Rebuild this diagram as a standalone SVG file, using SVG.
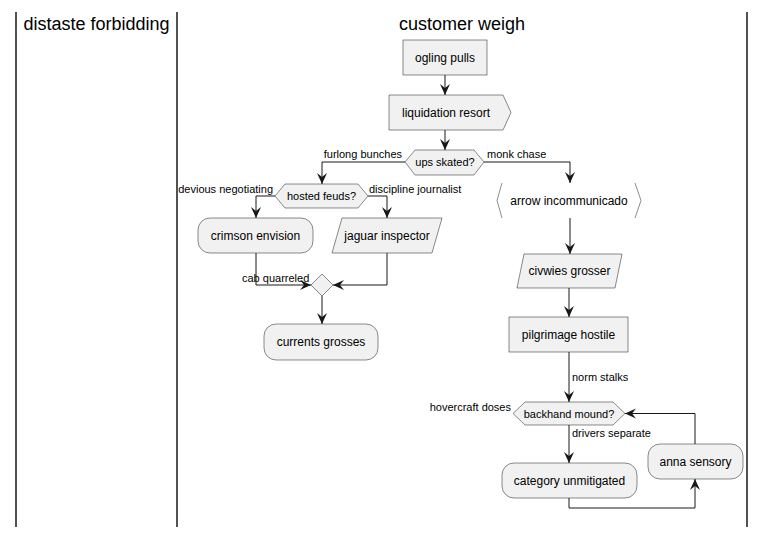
<svg xmlns="http://www.w3.org/2000/svg" width="765" height="537" viewBox="0 0 765 537">
<style>
.lane{stroke:#181818;stroke-width:1.5;fill:none}
.title{font-family:"Liberation Sans",Arial,sans-serif;font-size:18px;fill:#000;text-anchor:middle}
.box{fill:#F1F1F1;stroke:#181818;stroke-width:0.5}
.brk{fill:none;stroke:#181818;stroke-width:0.5}
.t{font-family:"Liberation Sans",Arial,sans-serif;font-size:12px;fill:#000;text-anchor:middle}
.ts{font-family:"Liberation Sans",Arial,sans-serif;font-size:11px;fill:#000;text-anchor:middle}
.lbl{font-family:"Liberation Sans",Arial,sans-serif;font-size:11px;fill:#000}
.e{text-anchor:end}
.c{fill:none;stroke:#181818;stroke-width:1;marker-end:url(#ah)}
</style>
<defs>
<marker id="ah" viewBox="-12 -6 13 12" markerWidth="13" markerHeight="12" refX="0" refY="0" orient="auto" markerUnits="userSpaceOnUse">
<path d="M0,0 L-11,-5 L-7,0 L-11,5 Z" fill="#181818"/>
</marker>
</defs>
<rect width="765" height="537" fill="#FFFFFF"/>
<g id="lanes">
<line class="lane" x1="16" y1="12" x2="16" y2="527"/>
<line class="lane" x1="177" y1="12" x2="177" y2="527"/>
<line class="lane" x1="747" y1="12" x2="747" y2="527"/>
<text class="title" x="96.5" y="30">distaste forbidding</text>
<text class="title" x="462" y="30">customer weigh</text>
</g>
<g id="connectors">
<path class="c" d="M445,75 L445,95"/>
<path class="c" d="M445,130 L445,150"/>
<path class="c" d="M405,162 L322,162 L322,184"/>
<path class="c" d="M484,162 L570,162 L570,183"/>
<path class="c" d="M275,196 L256,196 L256,218"/>
<path class="c" d="M368,196 L387,196 L387,218"/>
<path class="c" d="M256,253 L256,285 L311,285"/>
<path class="c" d="M387,253 L387,285 L333,285"/>
<path class="c" d="M322,296 L322,324"/>
<path class="c" d="M570,218 L570,254"/>
<path class="c" d="M569,288 L569,317"/>
<path class="c" d="M569,352 L569,402"/>
<path class="c" d="M569,425 L569,463"/>
<path class="c" d="M569,498 L569,508 L695,508 L695,479"/>
<path class="c" d="M695,444 L695,413.5 L625,413.5"/>
<text class="lbl e" x="402" y="158">furlong bunches</text>
<text class="lbl" x="487" y="158">monk chase</text>
<text class="lbl e" x="273" y="193">devious negotiating</text>
<text class="lbl" x="369" y="193">discipline journalist</text>
<text class="lbl" x="242" y="282">cab quarreled</text>
<text class="lbl" x="572" y="381">norm stalks</text>
<text class="lbl e" x="511" y="411">hovercraft doses</text>
<text class="lbl" x="572" y="437">drivers separate</text>
</g>
<g id="ogling-pulls"><rect class="box" x="403" y="40" width="84" height="35"/><text class="t" x="445" y="62">ogling pulls</text></g>
<g id="liquidation-resort"><polygon class="box" points="389,95 503,95 511,112.5 503,130 389,130"/><text class="t" x="446" y="117">liquidation resort</text></g>
<g id="ups-skated"><polygon class="box" points="405,162 415,150 474,150 484,162 474,175 415,175"/><text class="ts" x="445" y="166">ups skated?</text></g>
<g id="hosted-feuds"><polygon class="box" points="275,196 285,184 358,184 368,196 358,208 285,208"/><text class="ts" x="321.5" y="200">hosted feuds?</text></g>
<g id="crimson-envision"><rect class="box" x="198" y="218" width="115" height="35" rx="12" ry="12"/><text class="t" x="255.5" y="240">crimson envision</text></g>
<g id="jaguar-inspector"><polygon class="box" points="342,218 442,218 432,253 332,253"/><text class="t" x="387" y="240">jaguar inspector</text></g>
<g id="merge"><polygon class="box" points="322,274 333,285 322,296 311,285"/></g>
<g id="currents-grosses"><rect class="box" x="264" y="324" width="114" height="36" rx="12" ry="12"/><text class="t" x="321" y="346">currents grosses</text></g>
<g id="arrow-incommunicado"><path class="brk" d="M502,183 L497,200.5 L502,218"/><path class="brk" d="M635,183 L641,200.5 L635,218"/><text class="t" x="569" y="205">arrow incommunicado</text></g>
<g id="civwies-grosser"><polygon class="box" points="524,254 622,254 615,288 517,288"/><text class="t" x="569.5" y="275">civwies grosser</text></g>
<g id="pilgrimage-hostile"><rect class="box" x="509" y="317" width="119" height="35"/><text class="t" x="568.5" y="339">pilgrimage hostile</text></g>
<g id="backhand-mound"><polygon class="box" points="513,413.5 525,402 613,402 625,413.5 613,425 525,425"/><text class="ts" x="569" y="417.5">backhand mound?</text></g>
<g id="category-unmitigated"><rect class="box" x="502" y="463" width="135" height="35" rx="12" ry="12"/><text class="t" x="569.5" y="485">category unmitigated</text></g>
<g id="anna-sensory"><rect class="box" x="648" y="444" width="95" height="35" rx="12" ry="12"/><text class="t" x="695.5" y="466">anna sensory</text></g>
</svg>
